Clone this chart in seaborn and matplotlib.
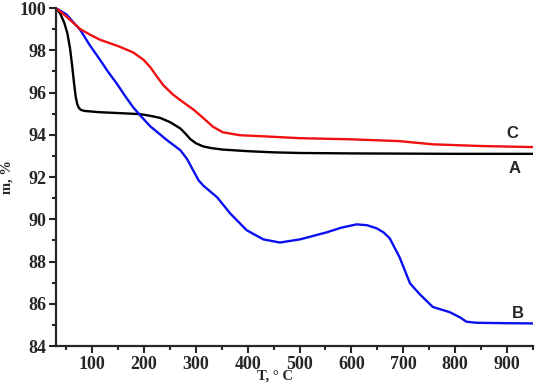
import matplotlib
matplotlib.use("Agg")
import matplotlib.pyplot as plt
from matplotlib.ticker import MultipleLocator
import seaborn as sns
import pandas as pd

# sample A (black)
t_a = [30, 38, 46, 52, 57, 61, 65, 68, 71, 74, 78, 85, 100, 115, 150, 192, 212, 231, 250, 262, 270, 280, 289, 300, 314, 330, 352, 404, 450, 500, 600, 700, 800, 900, 950]
m_a = [100, 99.75, 99.3, 98.8, 98.1, 97.3, 96.4, 95.8, 95.45, 95.28, 95.18, 95.13, 95.1, 95.07, 95.03, 94.98, 94.9, 94.8, 94.6, 94.42, 94.3, 94.05, 93.8, 93.6, 93.45, 93.37, 93.3, 93.22, 93.17, 93.14, 93.12, 93.11, 93.1, 93.1, 93.1]

# sample B (blue)
t_b = [30, 50, 77, 95, 115, 130, 148, 163, 179, 195, 212, 244, 270, 283, 295, 305, 314, 341, 366, 398, 430, 462, 501, 552, 580, 610, 630, 649, 662, 674, 693, 713, 732, 757, 790, 810, 822, 842, 900, 950]
m_b = [100, 99.7, 98.96, 98.25, 97.55, 97.0, 96.4, 95.85, 95.3, 94.85, 94.4, 93.75, 93.27, 92.85, 92.3, 91.85, 91.6, 91.04, 90.28, 89.48, 89.05, 88.9, 89.05, 89.38, 89.6, 89.76, 89.72, 89.57, 89.38, 89.1, 88.2, 86.97, 86.45, 85.85, 85.6, 85.35, 85.15, 85.1, 85.08, 85.07]

# sample C (red)
t_c = [30, 50, 77, 95, 115, 150, 179, 199, 212, 225, 237, 256, 275, 295, 314, 333, 352, 385, 430, 501, 597, 693, 757, 850, 950]
m_c = [100, 99.6, 99.0, 98.75, 98.5, 98.2, 97.9, 97.55, 97.2, 96.75, 96.35, 95.9, 95.55, 95.2, 94.8, 94.38, 94.12, 93.98, 93.93, 93.84, 93.79, 93.7, 93.55, 93.47, 93.42]

labels = ["A", "B", "C"]
label_pos = [(915, 92.4), (921, 85.55), (911, 94.08)]

df = pd.concat([
    pd.DataFrame({"T": t_a, "m": m_a, "sample": "A"}),
    pd.DataFrame({"T": t_b, "m": m_b, "sample": "B"}),
    pd.DataFrame({"T": t_c, "m": m_c, "sample": "C"}),
])

sns.set_style("ticks")
plt.rcParams["font.family"] = ["Liberation Serif", "DejaVu Serif"]
plt.rcParams["font.weight"] = "bold"

fig = plt.figure(figsize=(5.36, 3.86), dpi=100)
ax = fig.add_axes([0.1045, 0.1036, 0.8895, 0.8754])

palette = {"A": "#000000", "B": "#0a10f0", "C": "#f01010"}
sns.lineplot(data=df, x="T", y="m", hue="sample", palette=palette, sort=False,
             linewidth=1.7, legend=False, ax=ax)

for lab, (x, y) in zip(labels, label_pos):
    ax.text(x, y, lab, family="Liberation Sans", fontsize=12, fontweight="bold",
            ha="center", va="center")

ax.set_xlim(30, 950)
ax.set_ylim(84, 100)
ax.xaxis.set_major_locator(MultipleLocator(100))
ax.xaxis.set_minor_locator(MultipleLocator(50))
ax.yaxis.set_major_locator(MultipleLocator(2))
ax.yaxis.set_minor_locator(MultipleLocator(1))
ax.tick_params(which="major", direction="out", length=5, width=1.5, labelsize=13, pad=2)
ax.tick_params(which="minor", direction="out", length=3, width=1.5)

sns.despine(ax=ax)
for s in ["left", "bottom"]:
    ax.spines[s].set_linewidth(1.6)

ax.set_xlabel("T, ° C", fontsize=10.5, fontweight="bold")
ax.xaxis.set_label_coords(0.46, -0.071)
ax.set_ylabel("m, %", fontsize=10.5, fontweight="bold", labelpad=4)

fig.savefig("out.png", dpi=100)
